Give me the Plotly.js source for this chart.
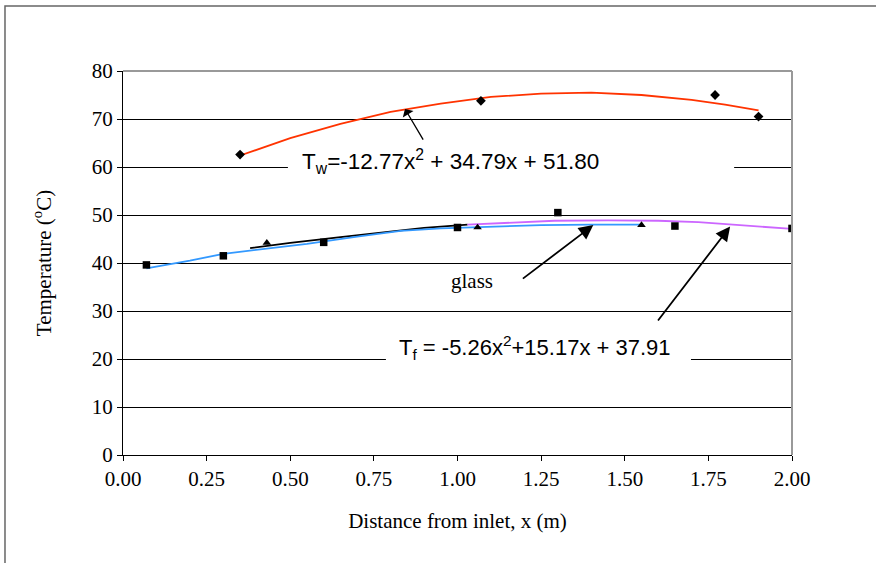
<!DOCTYPE html>
<html><head><meta charset="utf-8">
<script src="https://cdn.plot.ly/plotly-3.0.1.min.js"></script>
<style>html,body{margin:0;padding:0;background:#fff;overflow:hidden}</style>
</head><body><div id="chart" style="width:876px;height:563px"></div>
<script>
// Axis ticks
const xTickVals = [0, 0.25, 0.5, 0.75, 1.0, 1.25, 1.5, 1.75, 2.0];
const xTickText = ["0.00", "0.25", "0.50", "0.75", "1.00", "1.25", "1.50", "1.75", "2.00"];
const yTickVals = [0, 10, 20, 30, 40, 50, 60, 70, 80];

// Wall temperature, measured (diamonds)
const wallX = [0.35, 1.07, 1.77, 1.90];
const wallY = [62.6, 73.8, 75.0, 70.5];
// Wall temperature trend (red)
const wallFitX = [0.35, 0.5, 0.65, 0.8, 0.95, 1.1, 1.25, 1.4, 1.55, 1.7, 1.8, 1.9];
const wallFitY = [62.4, 66.0, 69.0, 71.5, 73.2, 74.6, 75.3, 75.5, 75.0, 74.0, 73.0, 71.8];

// Fluid temperature, measured (squares)
const fluidX = [0.07, 0.30, 0.60, 1.00, 1.30, 1.65, 2.00];
const fluidY = [39.6, 41.5, 44.3, 47.4, 50.5, 47.7, 47.2];
// Fluid trend, first part (black) and second part (purple)
const blackFitX = [0.38, 0.5, 0.65, 0.8, 0.9, 1.03];
const blackFitY = [43.1, 44.2, 45.4, 46.6, 47.3, 48.0];
const fluidFitX = [1.03, 1.15, 1.29, 1.45, 1.6, 1.72, 1.81, 1.9, 2.0];
const fluidFitY = [48.0, 48.4, 48.8, 48.9, 48.8, 48.5, 48.1, 47.7, 47.1];

// Glass temperature, measured (triangles) and trend (blue)
const glassX = [0.43, 1.06, 1.55];
const glassY = [44.2, 47.4, 47.9];
const glassFitX = [0.07, 0.2, 0.3, 0.45, 0.55, 0.7, 0.83, 0.95, 1.1, 1.25, 1.4, 1.55];
const glassFitY = [38.9, 40.5, 41.9, 43.2, 44.0, 45.5, 46.7, 47.2, 47.5, 47.9, 48.0, 48.0];

const serif = "Liberation Serif, Times New Roman, serif";
const sans = "Liberation Sans, Arial, sans-serif";

const traces = [
  {x: blackFitX, y: blackFitY, mode: "lines", line: {color: "#000000", width: 1.8}},
  {x: glassFitX, y: glassFitY, mode: "lines", line: {color: "#3399FF", width: 1.8}},
  {x: fluidFitX, y: fluidFitY, mode: "lines", line: {color: "#CC66FF", width: 1.8}},
  {x: wallFitX, y: wallFitY, mode: "lines", line: {color: "#FF3300", width: 1.8}},
  {x: wallX, y: wallY, mode: "markers", marker: {symbol: "diamond", size: 7.5, color: "#000000"}},
  {x: fluidX, y: fluidY, mode: "markers", marker: {symbol: "square", size: 7.5, color: "#000000"}},
  {x: glassX, y: glassY, mode: "markers", marker: {symbol: "triangle-up", size: 7.5, color: "#000000"}}
];

const layout = {
  width: 876, height: 563,
  margin: {l: 123, r: 84, t: 71, b: 108, pad: 0},
  paper_bgcolor: "#ffffff", plot_bgcolor: "#ffffff",
  showlegend: false,
  xaxis: {
    range: [0, 2], tickvals: xTickVals, ticktext: xTickText,
    ticks: "outside", ticklen: 5, tickcolor: "#000", tickwidth: 1,
    showline: true, linecolor: "#000", linewidth: 1,
    showgrid: false, zeroline: false,
    tickfont: {family: serif, size: 21, color: "#000"},
    title: {text: "Distance from inlet, x (m)", font: {family: serif, size: 21, color: "#000"}, standoff: 23},
    automargin: false, fixedrange: true
  },
  yaxis: {
    range: [0, 80], tickvals: yTickVals,
    ticks: "outside", ticklen: 5, tickcolor: "#000", tickwidth: 1,
    showline: true, linecolor: "#000", linewidth: 1,
    showgrid: true, gridcolor: "#000", gridwidth: 1, zeroline: false,
    tickfont: {family: serif, size: 21, color: "#000"},
    title: {text: "Temperature (<sup>o</sup>C)", font: {family: serif, size: 21, color: "#000"}, standoff: 34},
    automargin: false, fixedrange: true
  },
  shapes: [
    // outer chart frame (left and top edges)
    {type: "path", xref: "paper", yref: "paper",
     path: "M -0.1764,-0.3 L -0.1764,1.169 L 1.17,1.169",
     line: {color: "#666666", width: 1.5}},
    // plot area frame (top, right) in grey
    {type: "line", xref: "paper", yref: "paper", x0: 0, x1: 1, y0: 1, y1: 1, line: {color: "#999999", width: 2}},
    {type: "line", xref: "paper", yref: "paper", x0: 1, x1: 1, y0: 0, y1: 1, line: {color: "#999999", width: 2}},
    // white gaps in gridlines behind equation labels
    {type: "rect", xref: "x", yref: "y", x0: 0.493, x1: 1.827, y0: 59.6, y1: 60.4,
     line: {width: 0}, fillcolor: "#ffffff", layer: "between"},
    {type: "rect", xref: "x", yref: "y", x0: 0.786, x1: 1.698, y0: 19.6, y1: 20.4,
     line: {width: 0}, fillcolor: "#ffffff", layer: "between"}
  ],
  annotations: [
    {x: 0.529, y: 61.1, xref: "x", yref: "y", xanchor: "left", showarrow: false,
     text: "T<sub>w</sub>=-12.77x<sup>2</sup> + 34.79x + 51.80",
     font: {family: sans, size: 22.5, color: "#000"}},
    {x: 0.819, y: 22.3, xref: "x", yref: "y", xanchor: "left", showarrow: false,
     text: "T<sub>f</sub> = -5.26x<sup>2</sup>+15.17x + 37.91",
     font: {family: sans, size: 22, color: "#000"}},
    {x: 1.043, y: 36.3, xref: "x", yref: "y", showarrow: false,
     text: "glass", font: {family: serif, size: 21, color: "#000"}},
    {x: 0.843, y: 72.1, ax: 0.90, ay: 65.4, xref: "x", yref: "y", axref: "x", ayref: "y",
     text: "", showarrow: true, arrowhead: 1, arrowsize: 1.6, arrowwidth: 1.3, arrowcolor: "#000"},
    {x: 1.406, y: 47.9, ax: 1.191, ay: 36.5, xref: "x", yref: "y", axref: "x", ayref: "y",
     text: "", showarrow: true, arrowhead: 2, arrowsize: 1.6, arrowwidth: 1.8, arrowcolor: "#000"},
    {x: 1.815, y: 47.6, ax: 1.596, ay: 27.7, xref: "x", yref: "y", axref: "x", ayref: "y",
     text: "", showarrow: true, arrowhead: 2, arrowsize: 1.6, arrowwidth: 1.8, arrowcolor: "#000"}
  ]
};

Plotly.newPlot("chart", traces, layout, {staticPlot: true, displayModeBar: false});
</script>
</body></html>
